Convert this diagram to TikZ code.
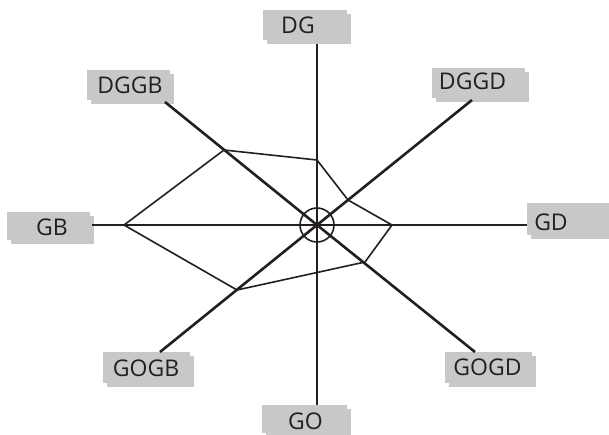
\documentclass[tikz,border=0pt]{standalone}
\usepackage{fontspec}
\setmainfont{Open Sans}
\usetikzlibrary{shadows}
\definecolor{boxgray}{RGB}{200,200,200}
\definecolor{ink}{RGB}{35,31,32}
\tikzset{
  axisline/.style={draw=ink,line width=2.6pt},
  polyline/.style={draw=ink,line width=1.6pt,line join=miter},
  lblbox/.style={fill=boxgray,draw=none,inner sep=0pt,rectangle,
    general shadow={fill=boxgray,draw=none,shadow xshift=4pt,shadow yshift=-4pt}},
  lbltext/.style={inner sep=0pt,text=ink,font=\fontsize{23}{27}\selectfont}
}
\begin{document}
\begin{tikzpicture}[x=1pt,y=-1pt]
\useasboundingbox (0,0) rectangle (609,434);
% label boxes
\node[lblbox,minimum width=84pt,minimum height=30pt] (bDG) at (305,25) {};
\node[lblbox,minimum width=83pt,minimum height=30pt] (bDGGB) at (128.5,85) {};
\node[lblbox,minimum width=93pt,minimum height=30pt] (bDGGD) at (478.5,83) {};
\node[lblbox,minimum width=83pt,minimum height=28pt] (bGB) at (48.5,226) {};
\node[lblbox,minimum width=86pt,minimum height=32pt] (bGD) at (570,219) {};
\node[lblbox,minimum width=87pt,minimum height=31pt] (bGOGB) at (146.5,367.5) {};
\node[lblbox,minimum width=87pt,minimum height=31pt] (bGOGD) at (488.5,367.5) {};
\node[lblbox,minimum width=85pt,minimum height=28pt] (bGO) at (304.5,419) {};
% axis ends
\coordinate (c) at (317,225);
\coordinate (eDG) at (317,44);
\coordinate (eDGGB) at (165,102);
\coordinate (eDGGD) at (472,100);
\coordinate (eGB) at (92,225);
\coordinate (eGD) at (527,225);
\coordinate (eGOGB) at (160,352);
\coordinate (eGOGD) at (475,352);
\coordinate (eGO) at (317,405);
\foreach \e in {eDG,eDGGB,eDGGD,eGB,eGD,eGOGB,eGOGD,eGO}
  \draw[axisline] (c) -- (\e);
% centre circle
\node[circle,draw=ink,line width=1.6pt,minimum size=34pt,inner sep=0pt] (ring) at (c) {};
% polygon
\coordinate (pDG) at (317,160);
\coordinate (pDGGB) at (224,150);
\coordinate (pGB) at (124,225);
\coordinate (pGOGB) at (237,290);
\coordinate (pGO) at (317,272.5);
\coordinate (pGOGD) at (365,262);
\coordinate (pGD) at (392,225);
\coordinate (pDGGD) at (348,200);
\draw[polyline] (pDG) -- (pDGGB) -- (pGB) -- (pGOGB) -- (pGO) -- (pGOGD) -- (pGD) -- (pDGGD) -- cycle;
% label texts
\node[lbltext] (tDG) at (298,25) {DG};
\node[lbltext] (tDGGB) at (130,85) {DGGB};
\node[lbltext] (tDGGD) at (472.5,81) {DGGD};
\node[lbltext] (tGB) at (52,227) {GB};
\node[lbltext] (tGD) at (551,222) {GD};
\node[lbltext] (tGOGB) at (146,368) {GOGB};
\node[lbltext] (tGOGD) at (487.5,367) {GOGD};
\node[lbltext] (tGO) at (305.5,421) {GO};
\end{tikzpicture}
\end{document}
